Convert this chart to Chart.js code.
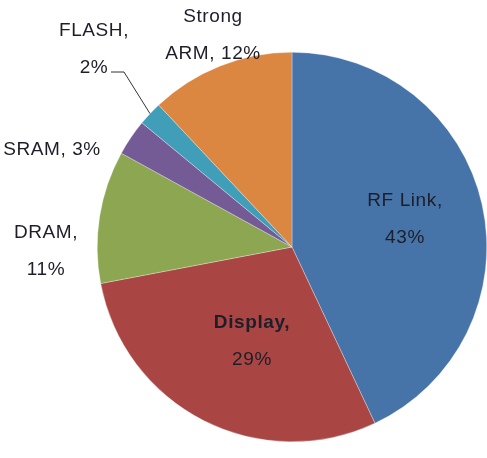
<!DOCTYPE html>
<html>
<head>
<meta charset="utf-8">
<script src="https://cdn.jsdelivr.net/npm/chart.js@4/dist/chart.umd.min.js"></script>
<style>
  html, body { margin: 0; padding: 0; background: #fff; }
  #wrap { width: 487px; height: 458px; }
</style>
</head>
<body>
<div id="wrap"><canvas id="pie_chart" width="487" height="458"></canvas></div>
<script>
const parts = ['RF Link', 'Display', 'DRAM', 'SRAM', 'FLASH', 'Strong ARM'];
const shares = [43, 29, 11, 3, 2, 12];
const sliceColors = ['#4674A8', '#A94643', '#8CA651', '#745B96', '#419EB8', '#DC8741'];

// where each label's text lines sit (hand placed, like the Excel original)
const labelLayout = {
  'RF Link': { lines: ['RF Link,', '43%'], x: 405, y: 201, boldFirst: false },
  'Display': { lines: ['Display,', '29%'], x: 252, y: 323, boldFirst: true },
  'DRAM': { lines: ['DRAM,', '11%'], x: 46, y: 233, boldFirst: false },
  'SRAM': { lines: ['SRAM, 3%'], x: 52, y: 150, boldFirst: false },
  'FLASH': { lines: ['FLASH,', '2%'], x: 94, y: 31, boldFirst: false, leader: true },
  'Strong ARM': { lines: ['Strong', 'ARM, 12%'], x: 213, y: 17, boldFirst: false }
};

const pieLabels = {
  id: 'pieLabels',
  afterDatasetsDraw(chart) {
    const ctx = chart.ctx;
    const arcs = chart.getDatasetMeta(0).data;
    ctx.save();
    ctx.fillStyle = '#1e1e2a';
    ctx.textAlign = 'center';
    ctx.textBaseline = 'middle';
    ctx.letterSpacing = '0.6px';
    parts.forEach((name, i) => {
      const lay = labelLayout[name];
      lay.lines.forEach((t, k) => {
        const bold = lay.boldFirst && k === 0;
        ctx.font = (bold ? 'bold ' : '') + '19px "Liberation Sans", Arial, sans-serif';
        ctx.fillText(t, lay.x, lay.y + k * 37);
      });
      if (lay.leader) {
        const a = arcs[i];
        const mid = (a.startAngle + a.endAngle) / 2;
        const ex = a.x + Math.cos(mid) * a.outerRadius;
        const ey = a.y + Math.sin(mid) * a.outerRadius;
        const sy = lay.y + 41;
        ctx.strokeStyle = '#333';
        ctx.lineWidth = 1;
        ctx.beginPath();
        ctx.moveTo(lay.x + 17, sy);
        ctx.lineTo(lay.x + 30, sy);
        ctx.lineTo(ex, ey);
        ctx.stroke();
      }
    });
    ctx.restore();
  }
};

new Chart(document.getElementById('pie_chart'), {
  type: 'pie',
  data: {
    labels: parts,
    datasets: [{
      data: shares,
      backgroundColor: sliceColors,
      borderColor: 'rgba(255,255,255,0.6)',
      borderWidth: 0.5
    }]
  },
  options: {
    responsive: false,
    animation: false,
    layout: { padding: { left: 97, right: 0, top: 52, bottom: 16 } },
    plugins: {
      legend: { display: false },
      tooltip: { enabled: false }
    }
  },
  plugins: [pieLabels]
});
</script>
</body>
</html>
